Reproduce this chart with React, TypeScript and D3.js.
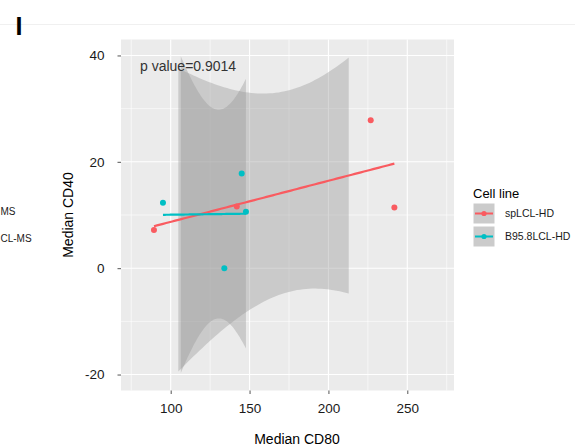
import { useEffect, useRef } from "react";
import * as d3 from "d3";

// series
const groups = ["spLCL-HD", "B95.8LCL-HD"];
const groupColors = ["#F95B60", "#00BFC4"];
const spX = [89.4, 141.9, 226.8, 241.8];
const spY = [7.2, 11.6, 27.8, 11.4];
const b95X = [95.1, 134.0, 145.0, 147.7];
const b95Y = [12.3, 0.0, 17.8, 10.6];

const xTicks = [100, 150, 200, 250];
const yTicks = [-20, 0, 20, 40];
const xMinor = [75, 125, 175, 225, 275];
const yMinor = [-10, 10, 30];
const yLimits = [-20, 40];
const pLabel = "p value=0.9014";
// what is left visible of the neighbouring panel's legend
const cutLegendLabels = ["MS", "CL-MS"];

const W = 575, H = 448;
const left = 121, right = 454, top = 39.5, bottom = 390.5;
const FONT = "'Liberation Sans', Arial, Helvetica, sans-serif";
const T975 = 4.302653; // t quantile, df = 2

// lm fit + 95% band like geom_smooth(method = "lm")
function smooth(xs: number[], ys: number[]) {
  const n = xs.length;
  const mx = d3.mean(xs)!, my = d3.mean(ys)!;
  const sxx = d3.sum(xs, x => (x - mx) ** 2);
  const sxy = d3.sum(xs.map((x, i) => (x - mx) * (ys[i] - my)));
  const b = sxy / sxx, a = my - b * mx;
  const rss = d3.sum(xs.map((x, i) => (ys[i] - a - b * x) ** 2));
  const s = Math.sqrt(rss / (n - 2));
  const [lo, hi] = d3.extent(xs) as [number, number];
  return d3.range(80).map(k => {
    const x = lo + (hi - lo) * k / 79;
    const fit = a + b * x;
    const se = s * Math.sqrt(1 / n + (x - mx) ** 2 / sxx);
    return { x, y: fit, ymin: fit - T975 * se, ymax: fit + T975 * se };
  });
}

export default function App() {
  const svgRef = useRef<SVGSVGElement>(null);

  useEffect(() => {
    const svg = d3.select(svgRef.current);
    svg.selectAll("*").remove();

    const x = d3.scaleLinear().domain([68.5, 279.6]).range([left, right]);
    const y = d3.scaleLinear().domain([-23, 43]).range([bottom, top]);

    const series = [
      { name: groups[0], color: groupColors[0], xs: spX, ys: spY },
      { name: groups[1], color: groupColors[1], xs: b95X, ys: b95Y },
    ].map(s => ({ ...s, fit: smooth(s.xs, s.ys) }));

    // faint edge of the panel above
    svg.append("line")
      .attr("x1", 0).attr("x2", W).attr("y1", 24.5).attr("y2", 24.5)
      .attr("stroke", "#F0F0F0").attr("stroke-width", 1);

    svg.append("text")
      .attr("x", 15.5).attr("y", 35)
      .attr("font-family", FONT).attr("font-size", 25).attr("font-weight", "bold")
      .text("I");

    cutLegendLabels.forEach((t, i) => {
      svg.append("text")
        .attr("x", 0.5).attr("y", 215 + i * 27)
        .attr("font-family", FONT).attr("font-size", 10).attr("fill", "#1a1a1a")
        .text(t);
    });

    // panel
    svg.append("rect")
      .attr("x", left).attr("y", top).attr("width", right - left).attr("height", bottom - top)
      .attr("fill", "#EBEBEB");

    const grid = svg.append("g").attr("stroke", "#FFFFFF");
    grid.selectAll(".xmin").data(xMinor).enter().append("line")
      .attr("x1", d => x(d)).attr("x2", d => x(d)).attr("y1", top).attr("y2", bottom)
      .attr("stroke-width", 0.6);
    grid.selectAll(".ymin").data(yMinor).enter().append("line")
      .attr("y1", d => y(d)).attr("y2", d => y(d)).attr("x1", left).attr("x2", right)
      .attr("stroke-width", 0.6);
    grid.selectAll(".xmaj").data(xTicks).enter().append("line")
      .attr("x1", d => x(d)).attr("x2", d => x(d)).attr("y1", top).attr("y2", bottom)
      .attr("stroke-width", 1.1);
    grid.selectAll(".ymaj").data(yTicks).enter().append("line")
      .attr("y1", d => y(d)).attr("y2", d => y(d)).attr("x1", left).attr("x2", right)
      .attr("stroke-width", 1.1);

    // confidence ribbons, rows outside ylim are dropped
    const area = d3.area<any>()
      .defined(d => d.ymin >= yLimits[0] && d.ymax <= yLimits[1])
      .x(d => x(d.x)).y0(d => y(d.ymin)).y1(d => y(d.ymax));
    series.forEach(s => {
      svg.append("path").attr("d", area(s.fit))
        .attr("fill", "#999999").attr("fill-opacity", 0.4);
    });

    svg.append("text")
      .attr("x", 140).attr("y", 70.5)
      .attr("font-family", FONT).attr("font-size", 14).attr("fill", "#333333")
      .text(pLabel);

    const line = d3.line<any>().x(d => x(d.x)).y(d => y(d.y));
    series.forEach(s => {
      svg.append("path").attr("d", line(s.fit))
        .attr("fill", "none").attr("stroke", s.color).attr("stroke-width", 2.2);
    });

    series.forEach(s => {
      svg.append("g").selectAll("circle").data(s.xs).enter().append("circle")
        .attr("cx", d => x(d)).attr("cy", (d, i) => y(s.ys[i])).attr("r", 3)
        .attr("fill", s.color);
    });

    // axes
    const styleAxis = (g: any) => {
      g.attr("font-family", FONT).attr("font-size", 13.5);
      g.select(".domain").remove();
      g.selectAll("line").attr("stroke", "#555555");
      g.selectAll("text").attr("fill", "#1a1a1a");
    };
    svg.append("g").attr("transform", `translate(0,${bottom})`)
      .call(d3.axisBottom(x).tickValues(xTicks).tickFormat(d => String(d))
        .tickSize(3.5).tickPadding(9))
      .call(styleAxis);
    svg.append("g").attr("transform", `translate(${left},0)`)
      .call(d3.axisLeft(y).tickValues(yTicks).tickFormat(d => String(d))
        .tickSize(3.5).tickPadding(13))
      .call(styleAxis);

    svg.append("text")
      .attr("x", 297).attr("y", 444)
      .attr("text-anchor", "middle")
      .attr("font-family", FONT).attr("font-size", 14)
      .text("Median CD80");
    svg.append("text")
      .attr("transform", `translate(73,${(top + bottom) / 2}) rotate(-90)`)
      .attr("text-anchor", "middle")
      .attr("font-family", FONT).attr("font-size", 14)
      .text("Median CD40");

    // legend
    const lg = svg.append("g");
    lg.append("text").attr("x", 473).attr("y", 197.5)
      .attr("font-family", FONT).attr("font-size", 13).text("Cell line");
    series.forEach((s, i) => {
      const ky = 203 + i * 23;
      lg.append("rect").attr("x", 473).attr("y", ky).attr("width", 22).attr("height", 21)
        .attr("fill", "#CBCBCB").attr("stroke", "#FFFFFF").attr("stroke-width", 1);
      lg.append("line").attr("x1", 475).attr("x2", 493)
        .attr("y1", ky + 10.5).attr("y2", ky + 10.5)
        .attr("stroke", s.color).attr("stroke-width", 2);
      lg.append("circle").attr("cx", 484).attr("cy", ky + 10.5).attr("r", 2.6)
        .attr("fill", s.color);
      lg.append("text").attr("x", 505).attr("y", ky + 14.3)
        .attr("font-family", FONT).attr("font-size", 10.5).attr("fill", "#1a1a1a")
        .text(s.name);
    });
  }, []);

  return (
    <svg ref={svgRef} width={W} height={H}
      style={{ position: "absolute", left: 0, top: 0, background: "#FFFFFF" }} />
  );
}
